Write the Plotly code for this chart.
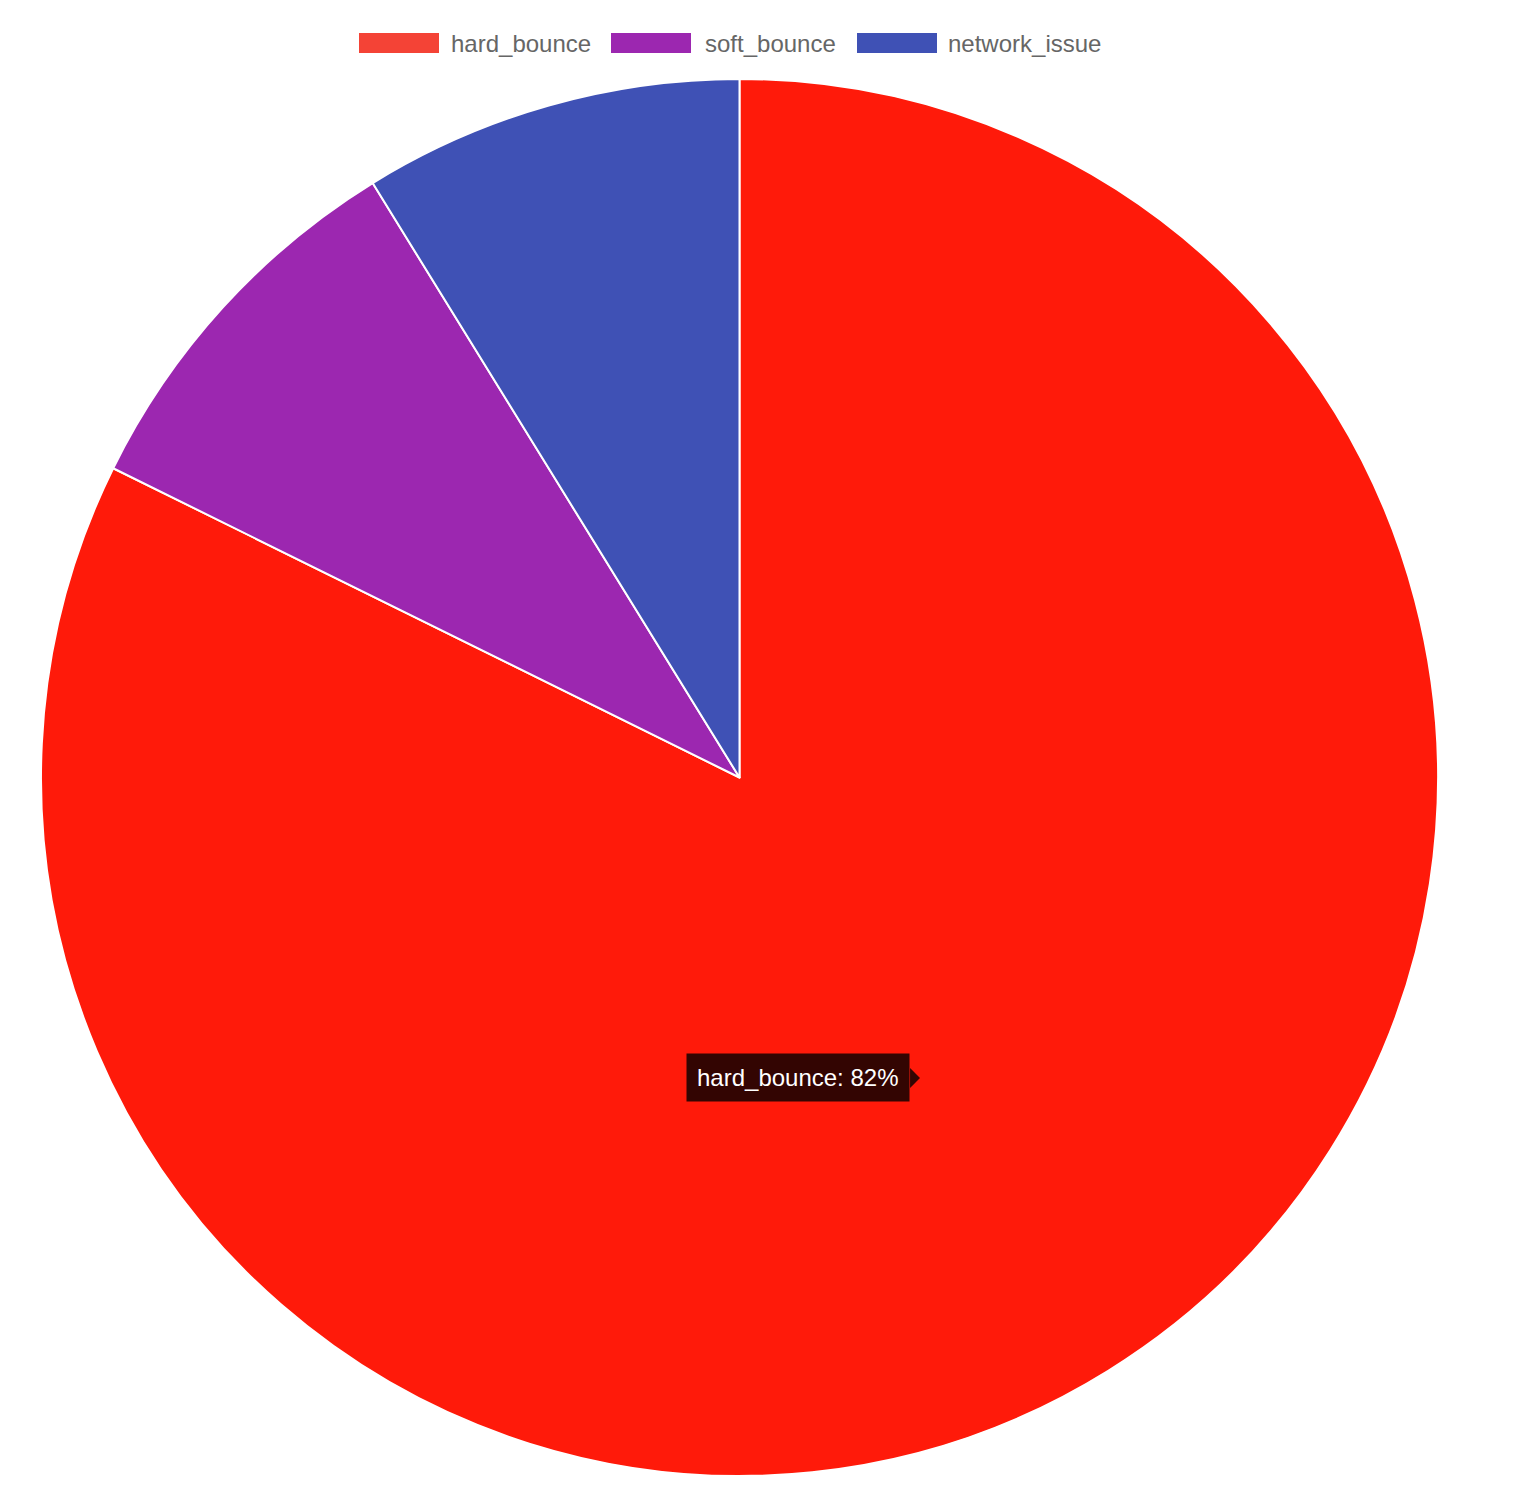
import plotly.graph_objects as go

labels = ['hard_bounce', 'soft_bounce', 'network_issue']
values = [82.3, 8.9, 8.8]
colors = ['#FF1A0A', '#9C27B0', '#3F51B5']
legend_colors = ['#F44336', '#9C27B0', '#3F51B5']
tooltip_text = 'hard_bounce: 82%'

FONT = 'Liberation Sans, Arial, sans-serif'

# plot area in pixels (figure coords) - used to place the chart.js-like legend boxes
L, T, W = 33, 71, 1397
swatch_left = [351, 603, 849]
text_left = [443, 697, 940]
legend_y = 35


def px_x(px):
    return (px - L) / W


def px_y(py):
    return (T + W - py) / W


fig = go.Figure()

fig.add_trace(go.Pie(
    labels=labels,
    values=values,
    sort=False,
    direction='clockwise',
    rotation=0,
    textinfo='none',
    hoverinfo='label+percent',
    showlegend=False,
    marker=dict(
        colors=colors,
        line=dict(color='white', width=2)
    )
))

# legend: wide colour boxes + labels
for name, color, sx, tx in zip(labels, legend_colors, swatch_left, text_left):
    fig.add_annotation(
        xref='paper', yref='paper',
        x=px_x(sx), y=px_y(legend_y),
        xanchor='left', yanchor='middle',
        text=' ', showarrow=False,
        width=80, height=20,
        bgcolor=color, borderpad=0, borderwidth=0,
        font=dict(size=1)
    )
    fig.add_annotation(
        xref='paper', yref='paper',
        x=px_x(tx), y=px_y(legend_y),
        xanchor='left', yanchor='middle',
        text=name, showarrow=False,
        borderpad=0, borderwidth=0,
        font=dict(size=24, color='#666666', family=FONT)
    )

# tooltip as a static box
fig.add_annotation(
    xref='paper', yref='paper',
    x=0.6221, y=0.2849,
    xanchor='right', yanchor='middle',
    text=tooltip_text,
    showarrow=False,
    bgcolor='rgba(0,0,0,0.8)',
    borderpad=10,
    font=dict(color='white', size=24, family=FONT)
)
fig.add_shape(
    type='path', xref='paper', yref='paper',
    path='M 0.6221 0.2921 L 0.6292 0.2849 L 0.6221 0.2777 Z',
    fillcolor='rgba(0,0,0,0.8)', line=dict(width=0)
)

fig.update_layout(
    width=1518,
    height=1502,
    margin=dict(l=L, r=1518 - L - W, t=T, b=1502 - T - W),
    paper_bgcolor='white',
    plot_bgcolor='white',
    font=dict(family=FONT, size=24, color='#666666'),
    showlegend=False
)

fig.write_html('out.html')
